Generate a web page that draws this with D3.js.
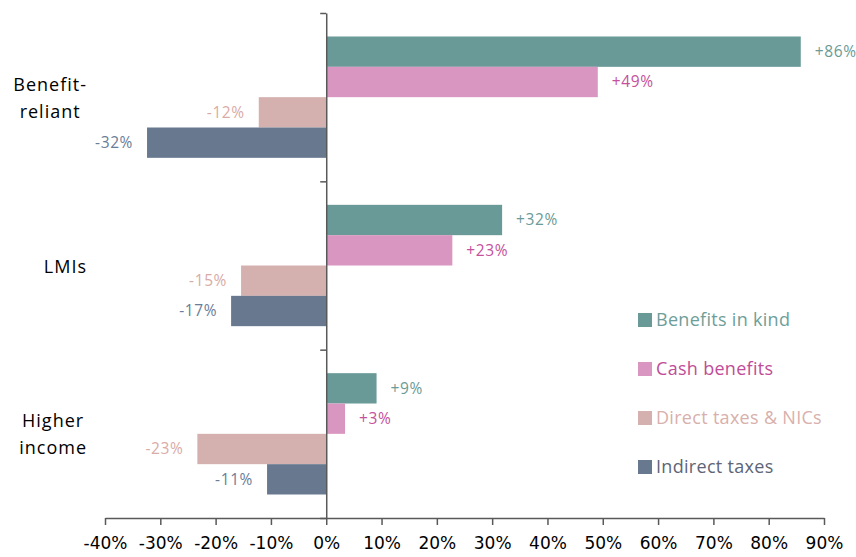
<!DOCTYPE html>
<html>
<head>
<meta charset="utf-8">
<script src="https://cdn.jsdelivr.net/npm/d3@7"></script>
<style>
  html, body { margin: 0; padding: 0; background: #fff; }
  svg { display: block; }
</style>
</head>
<body>
<svg id="chart" width="856" height="557"></svg>
<script>
// ---- data ----
const categories = ["Benefit-reliant", "LMIs", "Higher income"];
const categoryLines = [["Benefit-", "reliant"], ["LMIs"], ["Higher", "income"]];
const series = ["Benefits in kind", "Cash benefits", "Direct taxes & NICs", "Indirect taxes"];
const benefitsInKind = [0.858, 0.318, 0.091];
const cashBenefits   = [0.491, 0.228, 0.034];
const directTaxes    = [-0.122, -0.154, -0.233];
const indirectTaxes  = [-0.324, -0.172, -0.107];
const xTickValues = [-0.4, -0.3, -0.2, -0.1, 0, 0.1, 0.2, 0.3, 0.4, 0.5, 0.6, 0.7, 0.8, 0.9];

const seriesValues = [benefitsInKind, cashBenefits, directTaxes, indirectTaxes];
const barColors   = ["#699a97", "#d896c0", "#d4b1ae", "#68798f"];
const labelColors = ["#6b9b96", "#c5509c", "#d9aba6", "#6a7d98"];
const legendTextColors = ["#6e9e99", "#c04c98", "#d8b0ac", "#5d6577"];

const svg = d3.select("#chart");

const x = d3.scaleLinear().domain([-0.4, 0.9]).range([105, 824]);
const y0 = d3.scaleBand().domain(categories).range([13, 518]);
const bw = y0.bandwidth();
const y1 = d3.scaleBand().domain(series).range([23.5, bw - 23.5]);

const pct = v => (v > 0 ? "+" : v < 0 ? "-" : "") + Math.round(Math.abs(v * 100)) + "%";
const tickFmt = v => (v < 0 ? "-" : "") + Math.round(Math.abs(v * 100)) + "%";

// bars
const rows = [];
categories.forEach((c, ci) => {
  series.forEach((s, si) => {
    rows.push({ cat: c, ser: s, si: si, v: seriesValues[si][ci] });
  });
});

const g = svg.append("g");
g.selectAll("rect.bar").data(rows).enter().append("rect")
  .attr("class", "bar")
  .attr("x", d => Math.min(x(0), x(d.v)))
  .attr("width", d => Math.abs(x(d.v) - x(0)))
  .attr("y", d => y0(d.cat) + y1(d.ser))
  .attr("height", y1.bandwidth())
  .attr("fill", d => barColors[d.si]);

// data labels
g.selectAll("text.lbl").data(rows).enter().append("text")
  .attr("class", "lbl")
  .attr("x", d => d.v >= 0 ? x(d.v) + 14 : x(d.v) - 14)
  .attr("y", d => y0(d.cat) + y1(d.ser) + y1.bandwidth() / 2)
  .attr("dy", "0.35em")
  .attr("text-anchor", d => d.v >= 0 ? "start" : "end")
  .attr("font-family", "'Open Sans', sans-serif")
  .attr("font-size", 15.5)
  .attr("letter-spacing", 0.6)
  .attr("fill", d => labelColors[d.si])
  .text(d => pct(d.v));

// x axis
const xAxis = d3.axisBottom(x).tickValues(xTickValues).tickFormat(tickFmt)
  .tickSize(7).tickSizeOuter(0).tickPadding(12);
const xg = svg.append("g").attr("transform", "translate(0,518)").call(xAxis);
xg.select(".domain").attr("stroke", "#595959").attr("stroke-width", 1.5);
xg.selectAll(".tick line").attr("stroke", "#595959").attr("stroke-width", 1.5);
xg.selectAll(".tick text").attr("font-family", "'DejaVu Sans', sans-serif")
  .attr("font-size", 17).attr("fill", "#000");

// y axis (ticks at category boundaries)
const yb = d3.scaleLinear().domain([0, categories.length]).range([13, 518]);
const yAxis = d3.axisLeft(yb).ticks(categories.length).tickFormat("").tickSize(6).tickSizeOuter(0);
const yg = svg.append("g").attr("transform", `translate(${x(0)},0)`).call(yAxis);
yg.select(".domain").attr("stroke", "#595959").attr("stroke-width", 1.5);
yg.selectAll(".tick line").attr("stroke", "#595959").attr("stroke-width", 1.5);

// category labels
const lineH = 27;
categories.forEach((c, ci) => {
  const lines = categoryLines[ci];
  const cy = y0(c) + bw / 2;
  const t = svg.append("g");
  const texts = lines.map((ln, li) => t.append("text")
    .attr("y", cy + (li - (lines.length - 1) / 2) * lineH + 7)
    .attr("font-family", "'Open Sans', sans-serif")
    .attr("font-size", 18)
    .attr("letter-spacing", 1)
    .attr("fill", "#000")
    .attr("text-anchor", "middle")
    .text(ln));
  const widths = texts.map(tx => tx.node().getComputedTextLength());
  const maxW = d3.max(widths);
  const center = 87 - maxW / 2;
  texts.forEach(tx => tx.attr("x", center));
});

// legend
const legend = svg.append("g").attr("transform", "translate(638,320)");
series.forEach((s, si) => {
  const lg = legend.append("g").attr("transform", `translate(0,${si * 49})`);
  lg.append("rect").attr("x", 0).attr("y", -7).attr("width", 14).attr("height", 14)
    .attr("fill", barColors[si]);
  lg.append("text").attr("x", 18).attr("y", 0).attr("dy", "0.35em")
    .attr("font-family", "'Open Sans', sans-serif")
    .attr("font-size", 18)
    .attr("letter-spacing", 0.3)
    .attr("fill", legendTextColors[si])
    .text(s);
});
</script>
</body>
</html>
